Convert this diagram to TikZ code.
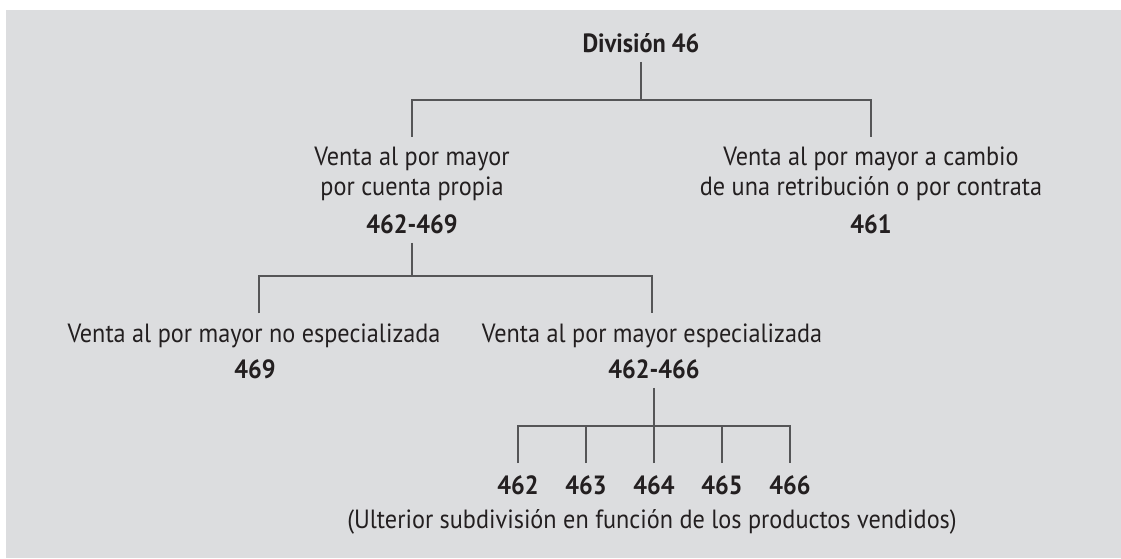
\documentclass[tikz,border=0pt]{standalone}
\usepackage{fontspec}
\setmainfont{PT Sans}[FakeStretch=0.92]
\definecolor{bggray}{RGB}{220,221,223}
\definecolor{linegray}{RGB}{85,85,87}
\definecolor{inkblack}{RGB}{35,31,32}

\begin{document}
\begin{tikzpicture}[x=0.02cm, y=-0.02cm,
    every node/.style={font=\fontsize{15}{17}\selectfont, text=inkblack, inner sep=0.19cm, anchor=base},
    label/.style={align=center},
    code/.style={font=\fontsize{15}{17}\selectfont\bfseries, text height=0.36cm, text depth=0pt},
    leaf/.style={code, inner ysep=0.25cm},
    branch/.style={draw=linegray, line width=1.1pt}]
    % page and grey panel
    \useasboundingbox (0,0) rectangle (1121,558);
    \fill[white] (0,0) rectangle (1121,558);
    \fill[bggray] (6,10) rectangle (1121,558);
    % top level
    \node[code] (div) at (641,52) {División 46};
    \coordinate (j1) at (641,100);
    % second level (base is the last line)
    \node[label] (propia) at (412,195) {Venta al por mayor\\por cuenta propia};
    \node[code] (c462469) at (412,233) {462-469};
    \node[label] (contrata) at (871,195) {Venta al por mayor a cambio\\de una retribución o por contrata};
    \node[code] (c461) at (871,233) {461};
    \draw[branch] (propia.north) |- (j1) -| (contrata.north);
    \draw[branch] (div.south) -- (j1);
    % third level
    \coordinate (j2) at (412,276);
    \node[label] (noesp) at (254,342) {Venta al por mayor no especializada};
    \node[code] (c469) at (255,378) {469};
    \node[label] (esp) at (652,342) {Venta al por mayor especializada};
    \node[code] (c462466) at (654,378) {462-466};
    \draw[branch] ([xshift=0.1cm]noesp.north) |- (j2) -| (esp.north);
    \draw[branch] (c462469.south) -- (j2);
    % groups 462 to 466
    \coordinate (j3) at (654,426);
    \foreach \n/\x in {462/518,463/586,464/654,465/722,466/790}
        \node[leaf] (c\n) at (\x,494) {\n};
    \draw[branch] (c462.north) |- (j3) -| (c466.north);
    \foreach \n in {463,464,465}
        \draw[branch] (c\n.north) -- (c\n.north |- j3);
    \draw[branch] (c462466.south) -- (j3);
    \node (note) at (652,528) {(Ulterior subdivisión en función de los productos vendidos)};
\end{tikzpicture}
\end{document}
